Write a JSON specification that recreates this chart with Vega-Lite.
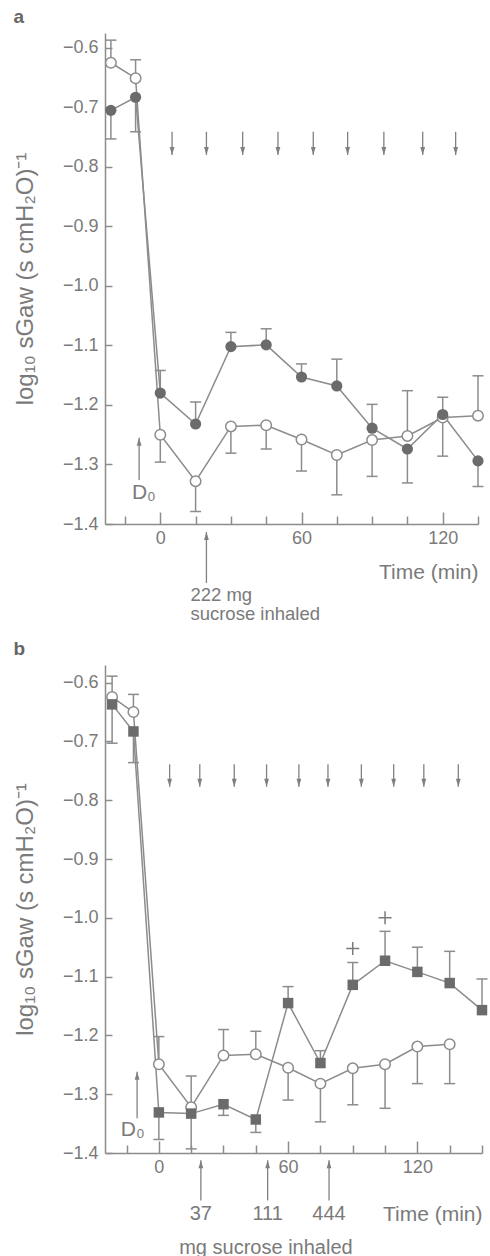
{
  "$schema": "https://vega.github.io/schema/vega-lite/v6.json",
  "padding": {"left": 13, "top": 8, "right": 2, "bottom": 0},
  "spacing": 16,
  "config": {
    "view": {"stroke": null},
    "font": "Liberation Sans",
    "axis": {"domainColor": "#8c8c8c", "domainWidth": 1.5, "tickColor": "#8c8c8c", "tickWidth": 1.5, "labelColor": "#7a7a7a", "titleColor": "#7a7a7a", "labelFontSize": 18, "titleFontSize": 21, "titleFontWeight": "normal", "grid": false, "labelFont": "Liberation Sans", "titleFont": "Liberation Sans"},
    "title": {"fontSize": 19, "fontWeight": "bold", "color": "#666666", "anchor": "start", "offset": 6, "font": "Liberation Sans"},
    "text": {"font": "Liberation Sans", "color": "#7a7a7a", "baseline": "middle"}
  },
  "datasets": {
    "aS": [
      {"s": "o", "t": -21, "v": -0.625, "e": -0.587},
      {"s": "o", "t": -10.5, "v": -0.651, "e": -0.62},
      {"s": "o", "t": 0, "v": -1.25, "e": -1.296},
      {"s": "o", "t": 15, "v": -1.328, "e": -1.379},
      {"s": "o", "t": 30, "v": -1.236, "e": -1.281},
      {"s": "o", "t": 45, "v": -1.234, "e": -1.274},
      {"s": "o", "t": 60, "v": -1.258, "e": -1.311},
      {"s": "o", "t": 75, "v": -1.284, "e": -1.351},
      {"s": "o", "t": 90, "v": -1.259, "e": -1.32},
      {"s": "o", "t": 105, "v": -1.252, "e": -1.176},
      {"s": "o", "t": 120, "v": -1.221, "e": -1.286},
      {"s": "o", "t": 135, "v": -1.218, "e": -1.151},
      {"s": "f", "t": -21, "v": -0.705, "e": -0.753},
      {"s": "f", "t": -10.5, "v": -0.683, "e": -0.741},
      {"s": "f", "t": 0, "v": -1.18, "e": -1.142},
      {"s": "f", "t": 15, "v": -1.232, "e": -1.195},
      {"s": "f", "t": 30, "v": -1.102, "e": -1.078},
      {"s": "f", "t": 45, "v": -1.099, "e": -1.072},
      {"s": "f", "t": 60, "v": -1.153, "e": -1.131},
      {"s": "f", "t": 75, "v": -1.168, "e": -1.123},
      {"s": "f", "t": 90, "v": -1.239, "e": -1.199},
      {"s": "f", "t": 105, "v": -1.274, "e": -1.331},
      {"s": "f", "t": 120, "v": -1.216, "e": -1.187},
      {"s": "f", "t": 135, "v": -1.294, "e": -1.337}
    ],
    "bS": [
      {"s": "o", "t": -21.7, "v": -0.6245, "e": -0.589},
      {"s": "o", "t": -11.8, "v": -0.65, "e": -0.62},
      {"s": "o", "t": 0, "v": -1.249, "e": -1.202},
      {"s": "o", "t": 15, "v": -1.322, "e": -1.269},
      {"s": "o", "t": 30, "v": -1.234, "e": -1.19},
      {"s": "o", "t": 45, "v": -1.232, "e": -1.193},
      {"s": "o", "t": 60, "v": -1.255, "e": -1.31},
      {"s": "o", "t": 75, "v": -1.282, "e": -1.347},
      {"s": "o", "t": 90, "v": -1.256, "e": -1.318},
      {"s": "o", "t": 105, "v": -1.249, "e": -1.324},
      {"s": "o", "t": 120, "v": -1.219, "e": -1.282},
      {"s": "o", "t": 135, "v": -1.215, "e": -1.282},
      {"s": "f", "t": -21.7, "v": -0.637, "e": -0.703},
      {"s": "f", "t": -11.8, "v": -0.683, "e": -0.736},
      {"s": "f", "t": 0, "v": -1.331, "e": -1.377},
      {"s": "f", "t": 15, "v": -1.333, "e": -1.393},
      {"s": "f", "t": 30, "v": -1.317, "e": -1.336},
      {"s": "f", "t": 45, "v": -1.343, "e": -1.365},
      {"s": "f", "t": 60, "v": -1.145, "e": -1.117},
      {"s": "f", "t": 75, "v": -1.247, "e": -1.226},
      {"s": "f", "t": 90, "v": -1.114, "e": -1.076},
      {"s": "f", "t": 105, "v": -1.073, "e": -1.023},
      {"s": "f", "t": 120, "v": -1.092, "e": -1.05},
      {"s": "f", "t": 135, "v": -1.111, "e": -1.057},
      {"s": "f", "t": 150, "v": -1.157, "e": -1.104}
    ],
    "aA": [
      {"d": "dn", "t": 5, "v": -0.741, "e": -0.78},
      {"d": "dn", "t": 19.6, "v": -0.741, "e": -0.78},
      {"d": "dn", "t": 35, "v": -0.741, "e": -0.78},
      {"d": "dn", "t": 50, "v": -0.741, "e": -0.78},
      {"d": "dn", "t": 65, "v": -0.741, "e": -0.78},
      {"d": "dn", "t": 79.6, "v": -0.741, "e": -0.78},
      {"d": "dn", "t": 95, "v": -0.741, "e": -0.78},
      {"d": "dn", "t": 111.5, "v": -0.741, "e": -0.78},
      {"d": "dn", "t": 125.5, "v": -0.741, "e": -0.78},
      {"d": "up", "t": -9, "v": -1.326, "e": -1.255},
      {"d": "up", "t": 19.6, "v": -1.499, "e": -1.4134}
    ],
    "bA": [
      {"d": "dn", "t": 5, "v": -0.739, "e": -0.777},
      {"d": "dn", "t": 19, "v": -0.739, "e": -0.777},
      {"d": "dn", "t": 35, "v": -0.739, "e": -0.777},
      {"d": "dn", "t": 50, "v": -0.739, "e": -0.777},
      {"d": "dn", "t": 65, "v": -0.739, "e": -0.777},
      {"d": "dn", "t": 78.5, "v": -0.739, "e": -0.777},
      {"d": "dn", "t": 94, "v": -0.739, "e": -0.777},
      {"d": "dn", "t": 109, "v": -0.739, "e": -0.777},
      {"d": "dn", "t": 123, "v": -0.739, "e": -0.777},
      {"d": "dn", "t": 139, "v": -0.739, "e": -0.777},
      {"d": "up", "t": -10.1, "v": -1.341, "e": -1.262},
      {"d": "up", "t": 19.5, "v": -1.4806, "e": -1.4124},
      {"d": "up", "t": 50.5, "v": -1.4806, "e": -1.4124},
      {"d": "up", "t": 79, "v": -1.4806, "e": -1.4124}
    ],
    "aD": [
      {"t": -7, "v": -1.348, "label": "D₀"}
    ],
    "aTl": [
      {"t": 12.8, "v": -1.519, "label": "222 mg"},
      {"t": 12.8, "v": -1.552, "label": "sucrose inhaled"}
    ],
    "bD": [
      {"t": -12.1, "v": -1.361, "label": "D₀"}
    ],
    "bTc": [
      {"t": 19.5, "v": -1.5045, "label": "37"},
      {"t": 50.5, "v": -1.5045, "label": "111"},
      {"t": 79, "v": -1.5045, "label": "444"},
      {"t": 49.7, "v": -1.5624, "label": "mg sucrose inhaled"}
    ],
    "bP": [
      {"t": 90, "v": -1.052},
      {"t": 105, "v": -1.0}
    ]
  },
  "vconcat": [
    {
      "width": 373,
      "height": 491,
      "title": {"text": "a"},
      "resolve": {"axis": {"x": "independent"}},
      "layer": [
        {
          "data": {"name": "aS"},
          "mark": {"type": "line", "color": "#8c8c8c", "strokeWidth": 1.5},
          "encoding": {
            "x": {"field": "t", "type": "quantitative", "scale": {"domain": [-23.5, 135], "nice": false, "zero": false},
              "axis": {"orient": "bottom", "values": [0, 60, 120], "tickSize": -12, "labelPadding": 17, "labelFlush": false, "labelOverlap": false, "title": "Time (min)", "titleAnchor": "end", "titlePadding": 14}},
            "y": {"field": "v", "type": "quantitative", "scale": {"domain": [-1.4, -0.575], "nice": false, "zero": false},
              "axis": {"values": [-1.4, -1.3, -1.2, -1.1, -1.0, -0.9, -0.8, -0.7, -0.6], "format": ".1f", "tickSize": -7, "labelPadding": 14, "labelFlush": false, "title": "log₁₀ sGaw (s cmH₂O)⁻¹", "titleFontSize": 24, "titlePadding": 25}},
            "detail": {"field": "s"}
          }
        },
        {
          "data": {"name": "aS"},
          "mark": {"type": "rule", "color": "#8c8c8c", "strokeWidth": 1.5},
          "encoding": {"x": {"field": "t", "type": "quantitative",
              "axis": {"orient": "bottom", "values": [-15, 15, 30, 45, 75, 90, 105, 135], "tickSize": -8, "labels": false, "domain": false, "title": null}},
            "y": {"field": "v", "type": "quantitative"}, "y2": {"field": "e"}}
        },
        {
          "data": {"name": "aS"},
          "mark": {"type": "tick", "orient": "horizontal", "color": "#8c8c8c", "size": 11, "thickness": 1.5, "opacity": 1},
          "encoding": {"x": {"field": "t", "type": "quantitative", "axis": null}, "y": {"field": "e", "type": "quantitative"}}
        },
        {
          "data": {"name": "aS"},
          "transform": [{"filter": "datum.s === 'o'"}],
          "mark": {"type": "point", "shape": "circle", "filled": true, "fill": "white", "stroke": "#8c8c8c", "strokeWidth": 1.5, "size": 110, "opacity": 1},
          "encoding": {"x": {"field": "t", "type": "quantitative", "axis": null}, "y": {"field": "v", "type": "quantitative"}}
        },
        {
          "data": {"name": "aS"},
          "transform": [{"filter": "datum.s === 'f'"}],
          "mark": {"type": "point", "shape": "circle", "filled": true, "color": "#6b6b6b", "size": 125, "opacity": 1},
          "encoding": {"x": {"field": "t", "type": "quantitative", "axis": null}, "y": {"field": "v", "type": "quantitative"}}
        },
        {
          "data": {"name": "aA"},
          "mark": {"type": "rule", "color": "#808080", "strokeWidth": 1.3},
          "encoding": {"x": {"field": "t", "type": "quantitative", "axis": null}, "y": {"field": "v", "type": "quantitative"}, "y2": {"field": "e"}}
        },
        {
          "data": {"name": "aA"},
          "mark": {"type": "point", "filled": true, "color": "#808080", "size": 64, "opacity": 1},
          "encoding": {"x": {"field": "t", "type": "quantitative", "axis": null}, "y": {"field": "e", "type": "quantitative"},
            "shape": {"field": "d", "type": "nominal", "scale": {"domain": ["dn", "up"], "range": ["M-0.6,-2L0,0L0.6,-2Z", "M-0.6,2L0,0L0.6,2Z"]}, "legend": null}}
        },
        {
          "data": {"name": "aD"},
          "mark": {"type": "text", "align": "center", "fontSize": 21},
          "encoding": {"x": {"field": "t", "type": "quantitative", "axis": null}, "y": {"field": "v", "type": "quantitative"}, "text": {"field": "label"}}
        },
        {
          "data": {"name": "aTl"},
          "mark": {"type": "text", "align": "left", "fontSize": 18.5},
          "encoding": {"x": {"field": "t", "type": "quantitative", "axis": null}, "y": {"field": "v", "type": "quantitative"}, "text": {"field": "label"}}
        }
      ]
    },
    {
      "width": 377,
      "height": 488,
      "title": {"text": "b"},
      "resolve": {"axis": {"x": "independent"}},
      "layer": [
        {
          "data": {"name": "bS"},
          "mark": {"type": "line", "color": "#8c8c8c", "strokeWidth": 1.5},
          "encoding": {
            "x": {"field": "t", "type": "quantitative", "scale": {"domain": [-25, 150], "nice": false, "zero": false},
              "axis": {"orient": "bottom", "values": [0, 60, 120], "tickSize": -12, "labelPadding": 17, "labelFlush": false, "labelOverlap": false, "title": "Time (min)", "titleAnchor": "end", "titlePadding": 27}},
            "y": {"field": "v", "type": "quantitative", "scale": {"domain": [-1.4, -0.57], "nice": false, "zero": false},
              "axis": {"values": [-1.4, -1.3, -1.2, -1.1, -1.0, -0.9, -0.8, -0.7, -0.6], "format": ".1f", "tickSize": -7, "labelPadding": 14, "labelFlush": false, "title": "log₁₀ sGaw (s cmH₂O)⁻¹", "titleFontSize": 24, "titlePadding": 25}},
            "detail": {"field": "s"}
          }
        },
        {
          "data": {"name": "bS"},
          "mark": {"type": "rule", "color": "#8c8c8c", "strokeWidth": 1.5},
          "encoding": {"x": {"field": "t", "type": "quantitative",
              "axis": {"orient": "bottom", "values": [-15, 15, 30, 45, 75, 90, 105, 135, 150], "tickSize": -8, "labels": false, "domain": false, "title": null}},
            "y": {"field": "v", "type": "quantitative"}, "y2": {"field": "e"}}
        },
        {
          "data": {"name": "bS"},
          "mark": {"type": "tick", "orient": "horizontal", "color": "#8c8c8c", "size": 11, "thickness": 1.5, "opacity": 1},
          "encoding": {"x": {"field": "t", "type": "quantitative", "axis": null}, "y": {"field": "e", "type": "quantitative"}}
        },
        {
          "data": {"name": "bS"},
          "transform": [{"filter": "datum.s === 'o'"}],
          "mark": {"type": "point", "shape": "circle", "filled": true, "fill": "white", "stroke": "#8c8c8c", "strokeWidth": 1.5, "size": 110, "opacity": 1},
          "encoding": {"x": {"field": "t", "type": "quantitative", "axis": null}, "y": {"field": "v", "type": "quantitative"}}
        },
        {
          "data": {"name": "bS"},
          "transform": [{"filter": "datum.s === 'f'"}],
          "mark": {"type": "point", "shape": "square", "filled": true, "color": "#6b6b6b", "size": 110, "opacity": 1},
          "encoding": {"x": {"field": "t", "type": "quantitative", "axis": null}, "y": {"field": "v", "type": "quantitative"}}
        },
        {
          "data": {"name": "bP"},
          "mark": {"type": "point", "shape": "M-1,0L1,0M0,-1L0,1", "filled": false, "stroke": "#7a7a7a", "strokeWidth": 1.5, "size": 169, "opacity": 1},
          "encoding": {"x": {"field": "t", "type": "quantitative", "axis": null}, "y": {"field": "v", "type": "quantitative"}}
        },
        {
          "data": {"name": "bA"},
          "mark": {"type": "rule", "color": "#808080", "strokeWidth": 1.3},
          "encoding": {"x": {"field": "t", "type": "quantitative", "axis": null}, "y": {"field": "v", "type": "quantitative"}, "y2": {"field": "e"}}
        },
        {
          "data": {"name": "bA"},
          "mark": {"type": "point", "filled": true, "color": "#808080", "size": 64, "opacity": 1},
          "encoding": {"x": {"field": "t", "type": "quantitative", "axis": null}, "y": {"field": "e", "type": "quantitative"},
            "shape": {"field": "d", "type": "nominal", "scale": {"domain": ["dn", "up"], "range": ["M-0.6,-2L0,0L0.6,-2Z", "M-0.6,2L0,0L0.6,2Z"]}, "legend": null}}
        },
        {
          "data": {"name": "bD"},
          "mark": {"type": "text", "align": "center", "fontSize": 21},
          "encoding": {"x": {"field": "t", "type": "quantitative", "axis": null}, "y": {"field": "v", "type": "quantitative"}, "text": {"field": "label"}}
        },
        {
          "data": {"name": "bTc"},
          "mark": {"type": "text", "align": "center", "fontSize": 20},
          "encoding": {"x": {"field": "t", "type": "quantitative", "axis": null}, "y": {"field": "v", "type": "quantitative"}, "text": {"field": "label"}}
        }
      ]
    }
  ]
}
